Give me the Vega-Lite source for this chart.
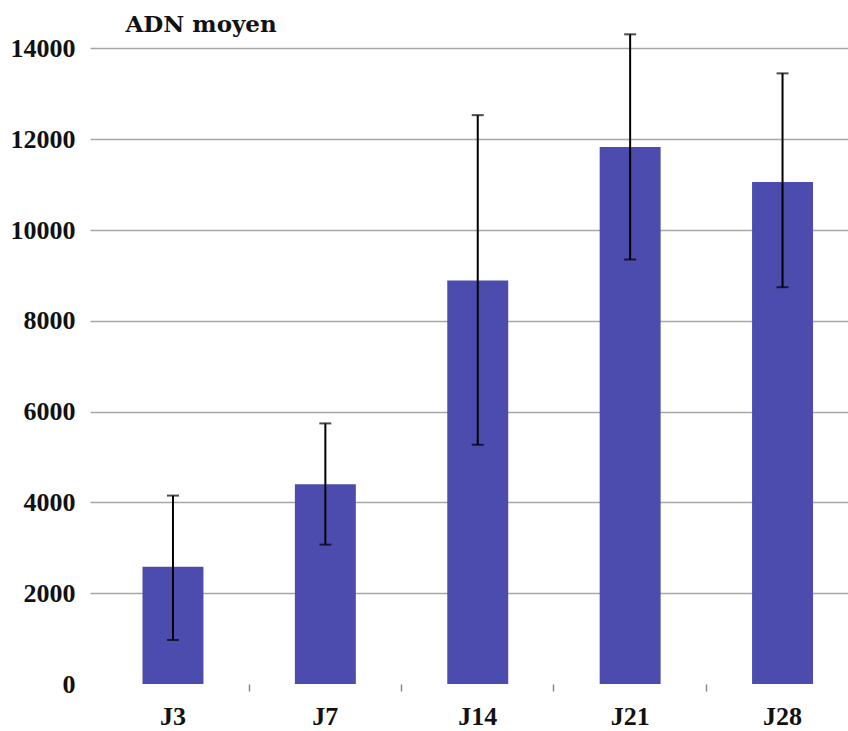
{
  "$schema": "https://vega.github.io/schema/vega-lite/v6.json",
  "autosize": {"type": "none"},
  "padding": {"left": 90, "top": 3, "right": 0, "bottom": 47},
  "width": 758,
  "height": 681,
  "background": "white",
  "config": {"view": {"stroke": null}},
  "data": {"values": [
    {"jour": "J3", "adn": 2580, "lo": 970, "hi": 4150},
    {"jour": "J7", "adn": 4400, "lo": 3070, "hi": 5740},
    {"jour": "J14", "adn": 8890, "lo": 5270, "hi": 12530},
    {"jour": "J21", "adn": 11830, "lo": 9350, "hi": 14310},
    {"jour": "J28", "adn": 11060, "lo": 8740, "hi": 13450}
  ]},
  "encoding": {
    "x": {
      "field": "jour", "type": "nominal", "sort": null,
      "scale": {"paddingInner": 0.6, "paddingOuter": 0.287, "align": 0.6},
      "axis": {
        "title": null, "domain": false, "labelAngle": 0,
        "bandPosition": -0.75, "tickSize": 7, "tickWidth": 1.5,
        "tickColor": {"condition": {"test": "datum.value == 'J3'", "value": "transparent"}, "value": "#888888"},
        "labelFont": "Liberation Serif", "labelFontWeight": "bold", "labelFontSize": 26,
        "labelColor": "#111111", "labelPadding": 12
      }
    }
  },
  "layer": [
    {
      "mark": {"type": "bar", "color": "#4c4cae"},
      "encoding": {
        "y": {
          "field": "adn", "type": "quantitative",
          "scale": {"domain": [0, 15000], "nice": false},
          "axis": {
            "values": [0, 2000, 4000, 6000, 8000, 10000, 12000, 14000],
            "format": "d", "domain": false, "ticks": false,
            "grid": true, "gridWidth": 1.5,
            "gridColor": {"condition": {"test": "datum.value == 0", "value": "transparent"}, "value": "#a6a6a6"},
            "labelFont": "Liberation Serif", "labelFontWeight": "bold", "labelFontSize": 26,
            "labelColor": "#111111", "labelPadding": 15,
            "title": "ADN moyen", "titleAngle": 0, "titleAlign": "left", "titleBaseline": "alphabetic",
            "titleX": 35, "titleY": 28,
            "titleFont": "DejaVu Serif", "titleFontWeight": "bold", "titleFontSize": 23, "titleColor": "#111111"
          }
        }
      }
    },
    {
      "mark": {"type": "rule", "color": "black", "strokeWidth": 2},
      "encoding": {
        "y": {"field": "lo", "type": "quantitative"},
        "y2": {"field": "hi"}
      }
    },
    {
      "mark": {"type": "tick", "color": "black", "size": 12, "thickness": 2},
      "encoding": {"y": {"field": "lo", "type": "quantitative"}}
    },
    {
      "mark": {"type": "tick", "color": "black", "size": 12, "thickness": 2},
      "encoding": {"y": {"field": "hi", "type": "quantitative"}}
    }
  ]
}
